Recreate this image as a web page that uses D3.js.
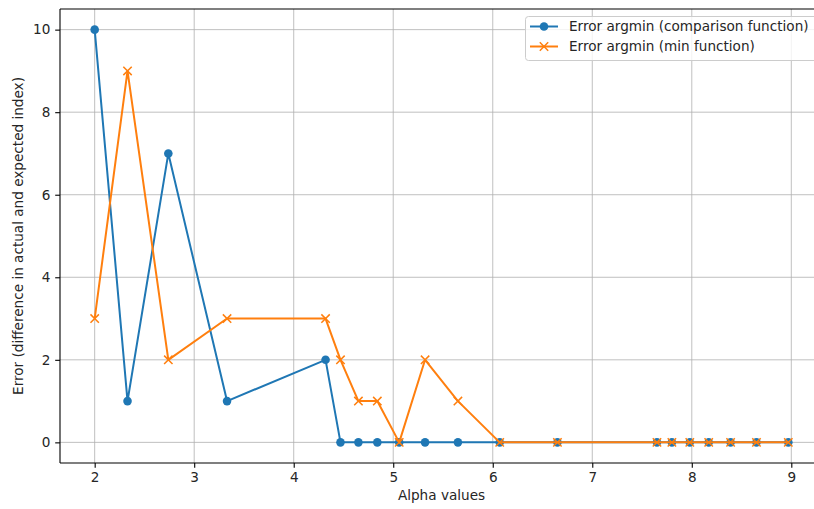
<!DOCTYPE html>
<html><head><meta charset="utf-8">
<script src="https://cdn.jsdelivr.net/npm/d3@7"></script>
<style>body{margin:0;background:#fff}svg{display:block}text{font-family:"DejaVu Sans",sans-serif;fill:#262626}</style>
</head><body><svg id="c" width="814" height="509"></svg>
<script>
const alphas = [2.00, 2.33, 2.74, 3.33, 4.32, 4.47, 4.65, 4.84, 5.06, 5.32, 5.65, 6.07, 6.65, 7.65, 7.80, 7.98, 8.17, 8.39, 8.65, 8.97];
const errComparison = [10, 1, 7, 1, 2, 0, 0, 0, 0, 0, 0, 0, 0, 0, 0, 0, 0, 0, 0, 0];
const errMin = [3, 9, 2, 3, 3, 2, 1, 1, 0, 2, 1, 0, 0, 0, 0, 0, 0, 0, 0, 0];
const xTicks = [2, 3, 4, 5, 6, 7, 8, 9];
const yTicks = [0, 2, 4, 6, 8, 10];
const seriesNames = ["Error argmin (comparison function)", "Error argmin (min function)"];

const svg = d3.select("#c");
const L = 60, R = 823, T = 9, B = 463;
const x = d3.scaleLinear().domain([1.6515, 9.3185]).range([L, R]);
const y = d3.scaleLinear().domain([-0.5, 10.5]).range([B, T]);
const FS = 13.6;
const blue = "#1f77b4", orange = "#ff7f0e";

const clip = svg.append("clipPath").attr("id","pc").append("rect").attr("x",L).attr("y",T).attr("width",R-L).attr("height",B-T);

// grid
const g = svg.append("g");
g.selectAll(".gx").data(xTicks).join("line").attr("x1",d=>x(d)).attr("x2",d=>x(d)).attr("y1",T).attr("y2",B)
  .attr("stroke","#b0b0b0").attr("stroke-width",0.8);
g.selectAll(".gy").data(yTicks).join("line").attr("x1",L).attr("x2",R).attr("y1",d=>y(d)).attr("y2",d=>y(d))
  .attr("stroke","#b0b0b0").attr("stroke-width",0.8);

// axes
const xa = svg.append("g").attr("transform",`translate(0,${B})`)
  .call(d3.axisBottom(x).tickValues(xTicks).tickSize(4.8).tickPadding(4.8).tickFormat(d3.format("d")));
const ya = svg.append("g").attr("transform",`translate(${L},0)`)
  .call(d3.axisLeft(y).tickValues(yTicks).tickSize(4.8).tickPadding(4.8).tickFormat(d3.format("d")));
[xa, ya].forEach(a => {
  a.select(".domain").remove();
  a.selectAll(".tick line").attr("stroke","#000").attr("stroke-width",1.1);
  a.selectAll(".tick text").attr("font-size",FS).attr("font-family","DejaVu Sans").style("fill","#262626");
});
// spines
svg.append("line").attr("x1",L).attr("x2",L).attr("y1",T).attr("y2",B).attr("stroke","#000").attr("stroke-width",1.1);
svg.append("line").attr("x1",L).attr("x2",R).attr("y1",B).attr("y2",B).attr("stroke","#000").attr("stroke-width",1.1);
svg.append("line").attr("x1",L).attr("x2",R).attr("y1",T).attr("y2",T).attr("stroke","#000").attr("stroke-width",1.1);
svg.append("line").attr("x1",R).attr("x2",R).attr("y1",T).attr("y2",B).attr("stroke","#000").attr("stroke-width",1.1);

// labels
svg.append("text").attr("x",(L+R)/2).attr("y",500).attr("text-anchor","middle").attr("font-size",FS).text("Alpha values");
svg.append("text").attr("transform",`translate(23,${(T+B)/2}) rotate(-90)`).attr("text-anchor","middle").attr("font-size",FS)
  .text("Error (difference in actual and expected index)");

const plot = svg.append("g").attr("clip-path","url(#pc)");
const line = d3.line().x(d=>x(d[0])).y(d=>y(d[1]));
const d1 = alphas.map((a,i)=>[a, errComparison[i]]);
const d2 = alphas.map((a,i)=>[a, errMin[i]]);

plot.append("path").datum(d1).attr("d",line).attr("fill","none").attr("stroke",blue).attr("stroke-width",2).attr("stroke-linejoin","round");
plot.selectAll(".c").data(d1).join("circle").attr("cx",d=>x(d[0])).attr("cy",d=>y(d[1])).attr("r",4.3).attr("fill",blue);

plot.append("path").datum(d2).attr("d",line).attr("fill","none").attr("stroke",orange).attr("stroke-width",2).attr("stroke-linejoin","round");
const s = 4.2;
plot.selectAll(".xm").data(d2).join("path")
  .attr("d",d=>{const cx=x(d[0]), cy=y(d[1]); return `M${cx-s},${cy-s}L${cx+s},${cy+s}M${cx-s},${cy+s}L${cx+s},${cy-s}`;})
  .attr("stroke",orange).attr("stroke-width",1.5).attr("fill","none");

// legend
const lg = svg.append("g");
lg.append("rect").attr("x",525.5).attr("y",16.5).attr("width",300).attr("height",44).attr("rx",3)
  .attr("fill","#fff").attr("fill-opacity",0.8).attr("stroke","#cccccc").attr("stroke-width",1);
const rows = [{c:blue, m:"o", t:seriesNames[0], yy:26.5},{c:orange, m:"x", t:seriesNames[1], yy:46.5}];
rows.forEach(r => {
  lg.append("line").attr("x1",530).attr("x2",558).attr("y1",r.yy).attr("y2",r.yy).attr("stroke",r.c).attr("stroke-width",2);
  if (r.m==="o") lg.append("circle").attr("cx",544).attr("cy",r.yy).attr("r",4.3).attr("fill",r.c);
  else lg.append("path").attr("d",`M${544-s},${r.yy-s}L${544+s},${r.yy+s}M${544-s},${r.yy+s}L${544+s},${r.yy-s}`).attr("stroke",r.c).attr("stroke-width",1.5);
  lg.append("text").attr("x",569).attr("y",r.yy).attr("dy","0.36em").attr("font-size",FS).text(r.t);
});
</script></body></html>
